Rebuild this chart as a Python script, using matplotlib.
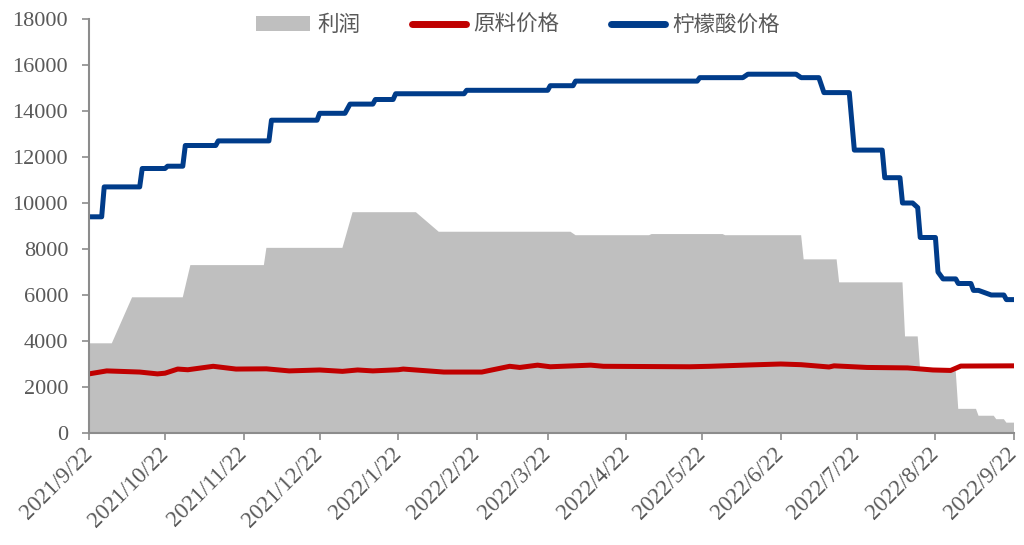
import matplotlib.pyplot as plt
import pandas as pd
from matplotlib.patches import Patch
from matplotlib.lines import Line2D

# citric acid price (blue)
acid_dates = ['2021-09-22', '2021-09-27', '2021-09-28', '2021-10-12', '2021-10-13', '2021-10-22',
              '2021-10-23', '2021-10-29', '2021-10-30', '2021-11-11', '2021-11-12', '2021-12-02',
              '2021-12-03', '2021-12-21', '2021-12-22', '2022-01-01', '2022-01-03', '2022-01-12',
              '2022-01-13', '2022-01-20', '2022-01-21', '2022-02-17', '2022-02-18', '2022-03-22',
              '2022-03-23', '2022-04-01', '2022-04-02', '2022-05-20', '2022-05-21', '2022-06-07',
              '2022-06-09', '2022-06-28', '2022-06-30', '2022-07-07', '2022-07-09', '2022-07-19',
              '2022-07-21', '2022-08-01', '2022-08-02', '2022-08-08', '2022-08-09', '2022-08-13',
              '2022-08-15', '2022-08-16', '2022-08-22', '2022-08-23', '2022-08-25', '2022-08-30',
              '2022-08-31', '2022-09-05', '2022-09-06', '2022-09-08', '2022-09-13', '2022-09-18',
              '2022-09-19', '2022-09-22']
acid_price = [9400, 9400, 10700, 10700, 11500, 11500,
              11600, 11600, 12500, 12500, 12700, 12700,
              13600, 13600, 13900, 13900, 14300, 14300,
              14500, 14500, 14750, 14750, 14900, 14900,
              15100, 15100, 15300, 15300, 15450, 15450,
              15600, 15600, 15450, 15450, 14800, 14800,
              12300, 12300, 11100, 11100, 10000, 10000,
              9800, 8500, 8500, 7000, 6700, 6700,
              6500, 6500, 6200, 6200, 6000, 6000,
              5800, 5800]

# profit (grey area)
profit_dates = ['2021-09-22', '2021-10-01', '2021-10-09', '2021-10-29', '2021-11-01', '2021-11-30',
                '2021-12-01', '2021-12-31', '2022-01-04', '2022-01-29', '2022-02-07', '2022-03-31',
                '2022-04-02', '2022-05-01', '2022-05-02', '2022-05-30', '2022-05-31', '2022-06-30',
                '2022-07-01', '2022-07-14', '2022-07-15', '2022-08-09', '2022-08-10', '2022-08-15',
                '2022-08-16', '2022-08-30', '2022-08-31', '2022-09-07', '2022-09-08', '2022-09-14',
                '2022-09-15', '2022-09-18', '2022-09-19', '2022-09-22']
profit = [3900, 3900, 5900, 5900, 7300, 7300,
          8050, 8050, 9600, 9600, 8750, 8750,
          8600, 8600, 8650, 8650, 8600, 8600,
          7550, 7550, 6550, 6550, 4200, 4200,
          2700, 2700, 1050, 1050, 750, 750,
          600, 600, 450, 450]

# raw material price (red)
raw_dates = ['2021-09-22', '2021-09-29', '2021-10-12', '2021-10-19', '2021-10-22', '2021-10-27',
             '2021-10-31', '2021-11-10', '2021-11-19', '2021-12-01', '2021-12-10', '2021-12-22',
             '2021-12-31', '2022-01-06', '2022-01-12', '2022-01-22', '2022-01-24', '2022-02-09',
             '2022-02-24', '2022-03-07', '2022-03-11', '2022-03-18', '2022-03-23', '2022-04-08',
             '2022-04-13', '2022-05-17', '2022-05-25', '2022-06-10', '2022-06-22', '2022-06-30',
             '2022-07-11', '2022-07-13', '2022-07-26', '2022-08-11', '2022-08-21', '2022-08-28',
             '2022-09-01', '2022-09-22']
raw_price = [2570, 2700, 2650, 2570, 2600, 2780,
             2750, 2900, 2780, 2790, 2700, 2740,
             2680, 2740, 2700, 2750, 2780, 2650,
             2650, 2900, 2850, 2950, 2880, 2950,
             2900, 2880, 2900, 2960, 3000, 2970,
             2870, 2920, 2850, 2830, 2740, 2720,
             2910, 2920]

tick_dates = ['2021-09-22', '2021-10-22', '2021-11-22', '2021-12-22', '2022-01-22', '2022-02-22',
              '2022-03-22', '2022-04-22', '2022-05-22', '2022-06-22', '2022-07-22', '2022-08-22',
              '2022-09-22']
tick_labels = ['2021/9/22', '2021/10/22', '2021/11/22', '2021/12/22', '2022/1/22', '2022/2/22',
               '2022/3/22', '2022/4/22', '2022/5/22', '2022/6/22', '2022/7/22', '2022/8/22',
               '2022/9/22']

acid_x = pd.to_datetime(acid_dates)
profit_x = pd.to_datetime(profit_dates)
raw_x = pd.to_datetime(raw_dates)
ticks_x = pd.to_datetime(tick_dates)

grey = '#BFBFBF'
red = '#C00000'
blue = '#003C8A'
txt = '#595959'
axis_c = '#8C8C8C'

fig = plt.figure(figsize=(10.24, 5.45), dpi=100)
ax = fig.add_axes([89 / 1024, 1 - 433 / 545, 925 / 1024, 414 / 545])

ax.fill_between(profit_x, 0, profit, facecolor=grey, linewidth=0)
ax.plot(raw_x, raw_price, color=red, linewidth=3.6, solid_capstyle='round', solid_joinstyle='round')
ax.plot(acid_x, acid_price, color=blue, linewidth=3.6, solid_capstyle='round', solid_joinstyle='round')

ax.set_xlim(ticks_x[0], ticks_x[-1])
ax.set_ylim(0, 18000)
ax.set_yticks(range(0, 18001, 2000))
ax.set_xticks(ticks_x)
ax.set_xticklabels(tick_labels)

serif = ['Liberation Serif', 'DejaVu Serif']
for lab in ax.get_yticklabels():
    lab.set_fontfamily(serif)
    lab.set_fontsize(16)
    lab.set_color(txt)
for lab in ax.get_xticklabels():
    lab.set_fontfamily(serif)
    lab.set_fontsize(16.5)
    lab.set_color(txt)
    lab.set_rotation(45)
    lab.set_ha('right')
    lab.set_va('center')
    lab.set_rotation_mode('anchor')

ax.tick_params(axis='y', direction='out', length=5, width=1.2, color=axis_c, pad=10)
ax.tick_params(axis='x', direction='out', length=5, width=1.2, color=axis_c, pad=8)
for s in ['top', 'right']:
    ax.spines[s].set_visible(False)
for s in ['left', 'bottom']:
    ax.spines[s].set_color(axis_c)
    ax.spines[s].set_linewidth(1.5)

handles = [Patch(facecolor=grey, edgecolor='none'),
           Line2D([], [], color=red, linewidth=5, solid_capstyle='round'),
           Line2D([], [], color=blue, linewidth=5, solid_capstyle='round')]
leg = fig.legend(handles, ['利润', '原料价格', '柠檬酸价格'], loc='center', ncol=3,
                 bbox_to_anchor=(518 / 1024, 1 - 25 / 545), frameon=False,
                 prop={'family': ['Noto Sans CJK SC', 'DejaVu Sans'], 'size': 15.5},
                 handlelength=2.5, handleheight=0.65, handletextpad=0.35, columnspacing=2.4,
                 labelcolor=txt)

fig.savefig('out.png', dpi=100)
